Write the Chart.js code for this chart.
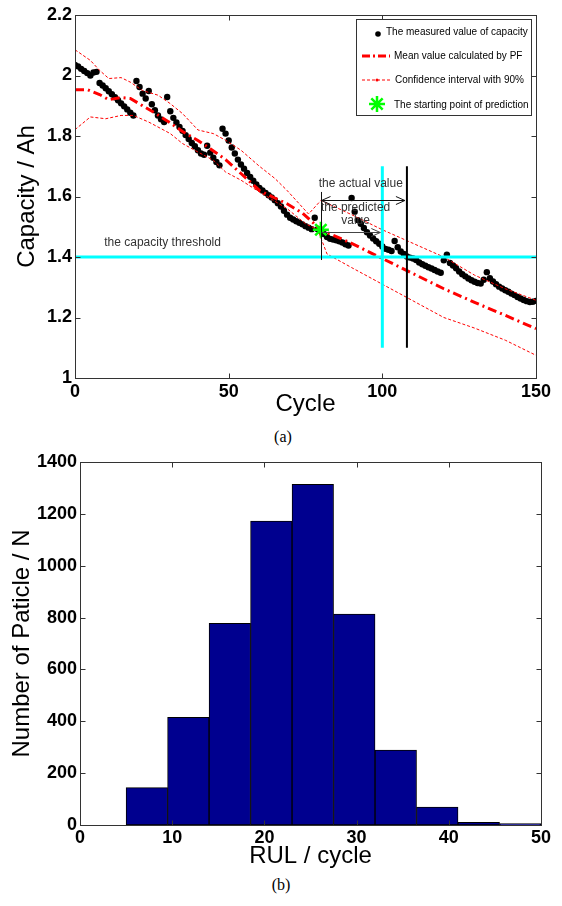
<!DOCTYPE html>
<html>
<head>
<meta charset="utf-8">
<script src="https://cdn.jsdelivr.net/npm/chart.js@4.4.0/dist/chart.umd.min.js"></script>
<style>
  html, body { margin: 0; padding: 0; background: #fff; }
  body { width: 562px; height: 906px; position: relative; overflow: hidden; }
  #capChart { position: absolute; left: 0; top: 0; }
  #rulChart { position: absolute; left: 0; top: 440px; }
  .caption { position: absolute; width: 40px; text-align: center; font: 16px "Liberation Serif", "Times New Roman", serif; color: #000; }
</style>
</head>
<body>
<canvas id="capChart" width="562" height="420"></canvas>
<div class="caption" style="left:263px; top:428px">(a)</div>
<canvas id="rulChart" width="562" height="432"></canvas>
<div class="caption" style="left:261px; top:876px">(b)</div>
<script>
// measured capacity, one value per cycle starting at cycle 0
const measuredCap = [
  2.035, 2.03, 2.022, 2.015, 2.008, 2.0, 2.01, 2.012, 1.975, 1.967,
  1.958, 1.948, 1.938, 1.928, 1.918, 1.908, 1.898, 1.888, 1.877, 1.868,
  1.982, 1.962, 1.94, 1.924, 1.949, 1.905, 1.885, 1.868, 1.855, 1.846,
  1.929, 1.882, 1.86, 1.845, 1.83, 1.817, 1.803, 1.79, 1.777, 1.766,
  1.753, 1.742, 1.738, 1.768, 1.745, 1.728, 1.714, 1.703, 1.824, 1.808,
  1.785, 1.762, 1.742, 1.722, 1.706, 1.692, 1.678, 1.665, 1.652, 1.64,
  1.628, 1.62, 1.612, 1.604, 1.597, 1.588, 1.578, 1.567, 1.553, 1.54,
  1.53, 1.524, 1.518, 1.513, 1.508, 1.502, 1.497, 1.492, 1.53, 1.492,
  1.486, 1.476, 1.466, 1.46, 1.458, 1.455, 1.452, 1.448, 1.442, 1.438,
  1.595, 1.55, 1.522, 1.51, 1.496, 1.482, 1.471, 1.461, 1.452, 1.444,
  1.435, 1.427, 1.424, 1.42, 1.453, 1.432, 1.418, 1.41, 1.402, 1.398,
  1.395, 1.39, 1.382, 1.376, 1.371, 1.366, 1.362, 1.357, 1.352, 1.348,
  1.389, 1.408, 1.38, 1.372, 1.363, 1.352, 1.343, 1.336, 1.329, 1.323,
  1.318, 1.314, 1.312, 1.325, 1.35, 1.33, 1.319, 1.31, 1.302, 1.296,
  1.29, 1.285, 1.279, 1.274, 1.268, 1.263, 1.258, 1.254, 1.251, 1.252,
  1.255
];

// mean value calculated by PF
const meanCycles = [0, 4, 8, 11, 15, 18, 22, 26, 30, 35, 40, 44, 49, 54, 60, 65, 69, 74, 80, 90, 100, 110, 120, 130, 140, 150];
const meanCap = [1.953, 1.953, 1.937, 1.92, 1.927, 1.924, 1.9, 1.876, 1.85, 1.815, 1.785, 1.758, 1.722, 1.676, 1.62, 1.595, 1.576, 1.545, 1.49, 1.445, 1.395, 1.345, 1.295, 1.25, 1.207, 1.163];

// 90% confidence interval
const upperCycles = [0, 5, 8, 11, 15, 18, 22, 27, 31, 35, 40, 45, 49, 54, 60, 65, 69, 76, 80, 90, 100, 110, 120, 130, 140, 150];
const upperCap = [2.085, 2.05, 2.017, 1.99, 1.993, 1.978, 1.95, 1.935, 1.907, 1.874, 1.82, 1.808, 1.786, 1.753, 1.7, 1.66, 1.62, 1.542, 1.587, 1.54, 1.49, 1.445, 1.4, 1.34, 1.295, 1.257];
const lowerCycles = [0, 5, 10, 15, 19, 24, 31, 35, 40, 45, 49, 54, 60, 69, 75, 79, 82, 90, 100, 110, 120, 130, 140, 150];
const lowerCap = [1.821, 1.863, 1.857, 1.868, 1.868, 1.846, 1.808, 1.775, 1.747, 1.72, 1.681, 1.654, 1.615, 1.56, 1.51, 1.49, 1.41, 1.365, 1.31, 1.255, 1.2, 1.165, 1.125, 1.075];

const startCycle = 80;
const startCap = 1.49;
const threshold = 1.4;
const predictedEOL = 100;
const actualEOL = 108;
const markerLow = 1.1;
const markerHigh = 1.7;

const legendLabels = [
  "The measured value of capacity",
  "Mean value calculated by PF",
  "Confidence interval with 90%",
  "The starting point of prediction"
];

// histogram of predicted RUL
const rulBins = [7.25, 11.75, 16.25, 20.75, 25.25, 29.75, 34.25, 38.75, 43.25, 47.75];
const rulCounts = [144, 415, 778, 1172, 1314, 813, 289, 69, 10, 5];

const sansFamily = '"Liberation Sans", Arial, Helvetica, sans-serif';
const tickFont = { family: sansFamily, size: 18, weight: "bold" };
const titleFont = { family: sansFamily, size: 24, weight: "normal" };

function pairs(xs, ys) {
  return xs.map((x, i) => ({ x: x, y: ys[i] }));
}

// matlab style box with inward ticks on all four sides
const boxFrame = {
  id: "boxFrame",
  afterDatasetsDraw(chart) {
    const { ctx, chartArea: a, scales } = chart;
    const l = Math.round(a.left) + 0.5, r = Math.round(a.right) + 0.5;
    const t = Math.round(a.top) + 0.5, b = Math.round(a.bottom) + 0.5;
    const tl = 5;
    ctx.save();
    ctx.strokeStyle = "#333";
    ctx.lineWidth = 1;
    ctx.beginPath();
    scales.x.ticks.forEach(tk => {
      const px = Math.round(scales.x.getPixelForValue(tk.value)) + 0.5;
      ctx.moveTo(px, b); ctx.lineTo(px, b - tl);
      ctx.moveTo(px, t); ctx.lineTo(px, t + tl);
    });
    scales.y.ticks.forEach(tk => {
      const py = Math.round(scales.y.getPixelForValue(tk.value)) + 0.5;
      ctx.moveTo(l, py); ctx.lineTo(l + tl, py);
      ctx.moveTo(r, py); ctx.lineTo(r - tl, py);
    });
    ctx.stroke();
    ctx.strokeRect(l, t, r - l, b - t);
    ctx.restore();
  }
};

function arrowHead(ctx, x, y, dir) {
  ctx.moveTo(x + dir * 9, y - 4);
  ctx.lineTo(x, y);
  ctx.lineTo(x + dir * 9, y + 4);
}

// texts, arrows and the legend of panel (a)
const capNotes = {
  id: "capNotes",
  afterDatasetsDraw(chart) {
    const { ctx, scales: { x, y } } = chart;
    ctx.save();
    ctx.strokeStyle = "#111";
    ctx.lineWidth = 1;

    const xs = Math.round(x.getPixelForValue(startCycle)) + 0.5;
    ctx.beginPath();
    ctx.moveTo(xs, y.getPixelForValue(1.615));
    ctx.lineTo(xs, y.getPixelForValue(threshold - 0.01));
    ctx.stroke();

    // actual value arrow
    const ya = Math.round(y.getPixelForValue(1.587)) + 0.5;
    const xa = x.getPixelForValue(actualEOL) - 2;
    ctx.beginPath();
    ctx.moveTo(xs, ya); ctx.lineTo(xa, ya);
    arrowHead(ctx, xs, ya, 1);
    arrowHead(ctx, xa, ya, -1);
    ctx.stroke();

    // predicted value arrow
    const yp = Math.round(y.getPixelForValue(1.484)) + 0.5;
    const xp = x.getPixelForValue(predictedEOL) - 2;
    ctx.strokeStyle = "#444";
    ctx.beginPath();
    ctx.moveTo(xs, yp); ctx.lineTo(xp, yp);
    arrowHead(ctx, xp, yp, -1);
    ctx.stroke();

    ctx.fillStyle = "#333";
    ctx.font = "12px " + sansFamily;
    ctx.textBaseline = "middle";
    ctx.textAlign = "center";
    ctx.fillText("the actual value", x.getPixelForValue(93), y.getPixelForValue(1.644));
    ctx.fillText("the predicted", x.getPixelForValue(91.3), y.getPixelForValue(1.562));
    ctx.fillText("value", x.getPixelForValue(91.3), y.getPixelForValue(1.521));
    ctx.textAlign = "left";
    ctx.fillText("the capacity threshold", x.getPixelForValue(9.5), y.getPixelForValue(1.448));

    // legend box
    const bx = 356.5, by = 19.5, bw = 175, bh = 96;
    ctx.fillStyle = "#fff";
    ctx.fillRect(bx, by, bw, bh);
    ctx.strokeStyle = "#333";
    ctx.strokeRect(bx, by, bw, bh);
    const rows = [33, 56, 80, 104];
    ctx.font = "10px " + sansFamily;
    ctx.fillStyle = "#000";
    ctx.textAlign = "left";

    ctx.beginPath();
    ctx.arc(378, rows[0] + 1, 2.8, 0, Math.PI * 2);
    ctx.fill();
    ctx.fillText(legendLabels[0], 386, rows[0] - 1);

    ctx.strokeStyle = "#ff0000";
    ctx.lineWidth = 3;
    ctx.setLineDash([8, 3, 2, 3]);
    ctx.beginPath(); ctx.moveTo(362, rows[1]); ctx.lineTo(390, rows[1]); ctx.stroke();
    ctx.fillText(legendLabels[1], 394, rows[1]);

    ctx.lineWidth = 1;
    ctx.setLineDash([3, 2]);
    ctx.beginPath(); ctx.moveTo(362, rows[2]); ctx.lineTo(391, rows[2]); ctx.stroke();
    ctx.setLineDash([]);
    ctx.fillStyle = "#ff0000";
    ctx.beginPath(); ctx.arc(377, rows[2], 1.5, 0, Math.PI * 2); ctx.fill();
    ctx.fillStyle = "#000";
    ctx.fillText(legendLabels[2], 395, rows[2]);

    ctx.strokeStyle = "#00ff00";
    ctx.lineWidth = 2.5;
    ctx.beginPath();
    for (let k = 0; k < 4; k++) {
      const ang = k * Math.PI / 4;
      ctx.moveTo(377 - 8 * Math.cos(ang), rows[3] - 8 * Math.sin(ang));
      ctx.lineTo(377 + 8 * Math.cos(ang), rows[3] + 8 * Math.sin(ang));
    }
    ctx.stroke();
    ctx.fillText(legendLabels[3], 394, rows[3] + 1);
    ctx.restore();
  }
};

const capChart = new Chart(document.getElementById("capChart"), {
  type: "scatter",
  data: {
    datasets: [
      {
        data: [{ x: startCycle, y: startCap }],
        pointStyle: "star", pointRadius: 8, borderColor: "#00ff00", borderWidth: 2.5, backgroundColor: "#00ff00"
      },
      {
        data: [{ x: actualEOL, y: markerLow }, { x: actualEOL, y: markerHigh }],
        showLine: true, pointRadius: 0, borderColor: "#000", borderWidth: 2
      },
      {
        data: [{ x: predictedEOL, y: markerLow }, { x: predictedEOL, y: markerHigh }],
        showLine: true, pointRadius: 0, borderColor: "#00ffff", borderWidth: 3
      },
      {
        data: [{ x: 0, y: threshold }, { x: 150, y: threshold }],
        showLine: true, pointRadius: 0, borderColor: "#00ffff", borderWidth: 3
      },
      {
        data: pairs(meanCycles, meanCap),
        showLine: true, pointRadius: 0, borderColor: "#ff0000", borderWidth: 3, borderDash: [9, 4, 2, 4]
      },
      {
        data: pairs(upperCycles, upperCap),
        showLine: true, pointRadius: 0, borderColor: "#ff0000", borderWidth: 1, borderDash: [3, 2]
      },
      {
        data: pairs(lowerCycles, lowerCap),
        showLine: true, pointRadius: 0, borderColor: "#ff0000", borderWidth: 1, borderDash: [3, 2]
      },
      {
        data: measuredCap.map((v, i) => ({ x: i, y: v })),
        pointRadius: 3.2, backgroundColor: "#000", borderWidth: 0
      }
    ]
  },
  options: {
    responsive: false,
    animation: false,
    layout: { padding: { top: 15, right: 26, left: 0, bottom: 0 } },
    plugins: { legend: { display: false }, tooltip: { enabled: false } },
    scales: {
      x: {
        type: "linear", min: 0, max: 150,
        ticks: { stepSize: 50, padding: 3, color: "#000", font: tickFont, maxRotation: 0 },
        grid: { display: false, drawTicks: false },
        border: { display: false },
        title: { display: true, text: "Cycle", color: "#000", font: titleFont, padding: { top: 0, bottom: 1 } },
        afterFit: s => { s.height = 42; }
      },
      y: {
        min: 1, max: 2.2,
        ticks: { stepSize: 0.2, padding: 3, color: "#000", font: tickFont, callback: v => String(+v.toFixed(1)) },
        grid: { display: false, drawTicks: false },
        border: { display: false },
        title: { display: true, text: "Capacity / Ah", color: "#000", font: titleFont, padding: { top: 13, bottom: 0 } },
        afterFit: s => { s.width = 75; }
      }
    }
  },
  plugins: [boxFrame, capNotes]
});

const rulChart = new Chart(document.getElementById("rulChart"), {
  type: "bar",
  data: {
    datasets: [{
      data: pairs(rulBins, rulCounts),
      backgroundColor: "#00008f",
      borderColor: "#000",
      borderWidth: 1,
      borderSkipped: false,
      barPercentage: 1,
      categoryPercentage: 1
    }]
  },
  options: {
    responsive: false,
    animation: false,
    layout: { padding: { top: 22, right: 21, left: 0, bottom: 0 } },
    plugins: { legend: { display: false }, tooltip: { enabled: false } },
    scales: {
      x: {
        type: "linear", offset: false, min: 0, max: 50,
        ticks: { stepSize: 10, padding: 2, color: "#000", font: tickFont, maxRotation: 0 },
        grid: { display: false, drawTicks: false },
        border: { display: false },
        title: { display: true, text: "RUL / cycle", color: "#000", font: titleFont, padding: { top: 0, bottom: 1 } },
        afterFit: s => { s.height = 47; }
      },
      y: {
        min: 0, max: 1400,
        ticks: { stepSize: 200, padding: 3, color: "#000", font: tickFont, callback: v => String(v) },
        grid: { display: false, drawTicks: false },
        border: { display: false },
        title: { display: true, text: "Number of Paticle / N", color: "#000", font: titleFont, padding: { top: 8, bottom: 0 } },
        afterFit: s => { s.width = 80; }
      }
    }
  },
  plugins: [boxFrame]
});
</script>
</body>
</html>
